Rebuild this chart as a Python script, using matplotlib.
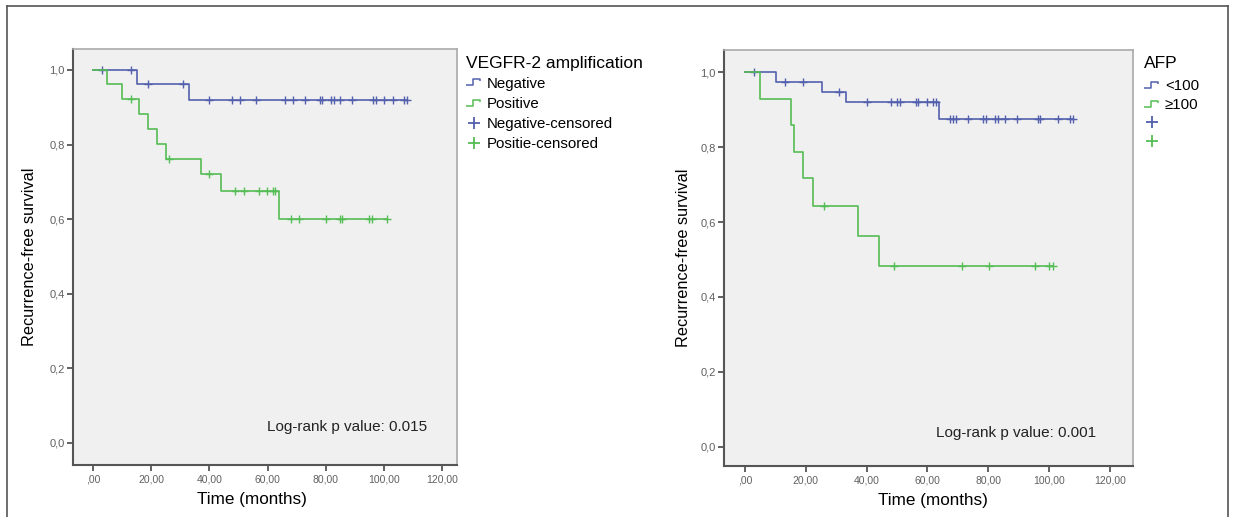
import matplotlib
matplotlib.use("Agg")
import matplotlib.pyplot as plt
from matplotlib.lines import Line2D
from matplotlib.path import Path

plt.rcParams['font.family'] = ['Liberation Sans', 'DejaVu Sans']

# ---------------- data ----------------
x_ticks = [0, 20, 40, 60, 80, 100, 120]
x_tick_labels = [",00", "20,00", "40,00", "60,00", "80,00", "100,00", "120,00"]
y_ticks = [0.0, 0.2, 0.4, 0.6, 0.8, 1.0]
y_tick_labels = ["0,0", "0,2", "0,4", "0,6", "0,8", "1,0"]

# Left panel: VEGFR-2 amplification
neg_steps_t = [0, 15.0, 33.1, 107.8]
neg_steps_s = [1.0, 0.962, 0.920, 0.920]
neg_cens_t = [3.0, 13.1, 19.0, 31.0, 40.0, 47.7, 50.5, 55.9, 66.0, 68.6, 72.9,
              78.0, 78.8, 81.7, 82.8, 84.9, 88.9, 96.3, 97.1, 100.1, 103.0, 106.9, 107.8]
neg_cens_s = [1.0, 1.0, 0.962, 0.962] + [0.920] * 19

pos_steps_t = [0, 4.9, 9.9, 15.9, 19.0, 21.9, 25.1, 37.0, 44.0, 63.9, 100.9]
pos_steps_s = [1.0, 0.962, 0.922, 0.882, 0.842, 0.802, 0.762, 0.720, 0.676, 0.600, 0.600]
pos_cens_t = [13.1, 26.0, 39.9, 48.8, 51.9, 56.9, 59.7, 62.0, 62.6,
              67.9, 70.9, 80.0, 84.9, 85.5, 94.8, 95.8, 100.9]
pos_cens_s = [0.922, 0.762, 0.720, 0.676, 0.676, 0.676, 0.676, 0.676, 0.676,
              0.600, 0.600, 0.600, 0.600, 0.600, 0.600, 0.600, 0.600]

# Right panel: AFP
low_steps_t = [0, 10.2, 25.2, 33.1, 63.9, 108.0]
low_steps_s = [1.0, 0.974, 0.946, 0.919, 0.874, 0.874]
low_cens_t = [3.0, 13.2, 19.0, 31.0, 40.2, 48.0, 49.9, 51.0, 56.1, 57.0, 60.0, 61.9, 62.7,
              67.4, 68.3, 69.4, 73.2, 78.4, 79.3, 82.2, 83.3, 85.5, 89.4, 96.3, 97.0,
              103.1, 106.9, 108.0]
low_cens_s = [1.0, 0.974, 0.974, 0.946] + [0.919] * 9 + [0.874] * 15

high_steps_t = [0, 4.9, 15.0, 16.1, 19.2, 22.3, 37.1, 44.2, 101.2]
high_steps_s = [1.0, 0.928, 0.859, 0.786, 0.717, 0.643, 0.563, 0.483, 0.483]
high_cens_t = [26.0, 49.1, 71.3, 80.3, 95.4, 100.1, 101.2]
high_cens_s = [0.643, 0.483, 0.483, 0.483, 0.483, 0.483, 0.483]

BLUE = '#5260ad'
GREEN = '#55bd55'

W, H = 1233, 517
fig = plt.figure(figsize=(W / 100, H / 100), dpi=100)
fig.patch.set_facecolor('white')

# outer frame
for (xs, ys) in [((7 / W, 7 / W), (0, 1 - 6 / H)),
                 ((7 / W, 1228 / W), (1 - 6 / H, 1 - 6 / H)),
                 ((1228 / W, 1228 / W), (0, 1 - 6 / H))]:
    fig.add_artist(Line2D(xs, ys, transform=fig.transFigure, color='#555555', lw=1.2))


def make_axes(rect, xlim, ylim, xlab_x, ylab_x):
    ax = fig.add_axes(rect)
    ax.set_facecolor('#f0f0f0')
    ax.set_xlim(*xlim)
    ax.set_ylim(*ylim)
    ax.set_xticks(x_ticks)
    ax.set_xticklabels(x_tick_labels, fontsize=7.5, color='#606060')
    ax.set_yticks(y_ticks)
    ax.set_yticklabels(y_tick_labels, fontsize=8, color='#606060')
    ax.tick_params(direction='out', length=4, width=1.3, color='#555555', pad=3)
    ax.tick_params(axis='y', pad=2)
    for s in ['left', 'bottom']:
        ax.spines[s].set_color('#555555')
        ax.spines[s].set_linewidth(1.5)
    for s in ['top', 'right']:
        ax.spines[s].set_color('#aaaaaa')
        ax.spines[s].set_linewidth(1.2)
    ax.set_xlabel('Time (months)', fontsize=12.3)
    ax.xaxis.set_label_coords(xlab_x, -0.064)
    ax.set_ylabel('Recurrence-free survival', fontsize=11.7)
    ax.yaxis.set_label_coords(ylab_x, 0.5)
    return ax


def km(ax, st, ss, ct, cs, color):
    ax.step(st, ss, where='post', color=color, lw=1.2)
    ax.plot(ct, cs, linestyle='none', marker='+', markersize=6, mew=1.0, color=color)


step_marker = Path([(-1.0, -0.45), (-0.15, -0.45), (-0.15, 0.45), (0.75, 0.45), (0.75, 0.1)],
                   [Path.MOVETO, Path.LINETO, Path.LINETO, Path.LINETO, Path.LINETO])


def handles():
    return [Line2D([], [], linestyle='none', marker=step_marker, markersize=11, mew=1.1,
                   markerfacecolor='none', color=BLUE),
            Line2D([], [], linestyle='none', marker=step_marker, markersize=11, mew=1.1,
                   markerfacecolor='none', color=GREEN),
            Line2D([], [], linestyle='none', marker='+', markersize=9, mew=1.3, color=BLUE),
            Line2D([], [], linestyle='none', marker='+', markersize=9, mew=1.3, color=GREEN)]


# ---- left panel ----
axL = make_axes([73 / W, 1 - 465 / H, 384 / W, 416 / H], (-6.9, 125.1), (-0.059, 1.056),
                0.466, -0.094)
km(axL, neg_steps_t, neg_steps_s, neg_cens_t, neg_cens_s, BLUE)
km(axL, pos_steps_t, pos_steps_s, pos_cens_t, pos_cens_s, GREEN)
axL.text(0.922, 0.091, 'Log-rank p value: 0.015', transform=axL.transAxes,
         ha='right', va='center', fontsize=11, color='#222222')
legL = axL.legend(handles(), ['Negative', 'Positive', 'Negative-censored', 'Positie-censored'],
                  title='VEGFR-2 amplification', loc='upper left',
                  bbox_to_anchor=(463 / W, 1 - 53 / H), bbox_transform=fig.transFigure,
                  frameon=False, fontsize=10.8, title_fontsize=12.5, alignment='left',
                  handlelength=1.0, handletextpad=0.4, labelspacing=0.42,
                  borderpad=0.2, borderaxespad=0)
legL._legend_box.sep = 4

# ---- right panel ----
axR = make_axes([724 / W, 1 - 466 / H, 409 / W, 416 / H], (-6.9, 127.6), (-0.051, 1.059),
                0.511, -0.081)
km(axR, low_steps_t, low_steps_s, low_cens_t, low_cens_s, BLUE)
km(axR, high_steps_t, high_steps_s, high_cens_t, high_cens_s, GREEN)
axR.text(0.91, 0.079, 'Log-rank p value: 0.001', transform=axR.transAxes,
         ha='right', va='center', fontsize=11, color='#222222')
legR = axR.legend(handles(), ['<100', '≥100', '', ''],
                  title='AFP', loc='upper left',
                  bbox_to_anchor=(1141 / W, 1 - 53 / H), bbox_transform=fig.transFigure,
                  frameon=False, fontsize=10.8, title_fontsize=12.5, alignment='left',
                  handlelength=1.0, handletextpad=0.4, labelspacing=0.3,
                  borderpad=0.2, borderaxespad=0)
legR._legend_box.sep = 6

fig.savefig('out.png', dpi=100)
